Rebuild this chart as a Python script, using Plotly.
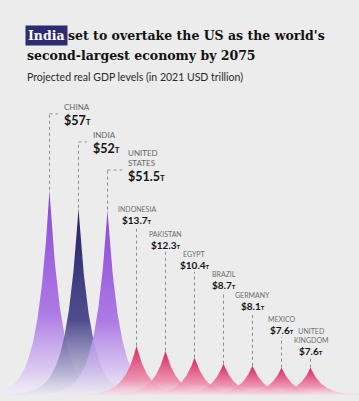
import numpy as np
import plotly.graph_objects as go

# ---- data ----
countries = ["CHINA", "INDIA", "UNITED<br>STATES", "INDONESIA", "PAKISTAN", "EGYPT",
             "BRAZIL", "GERMANY", "MEXICO", "UNITED<br>KINGDOM"]
gdp_2075 = [57, 52, 51.5, 13.7, 12.3, 10.4, 8.7, 8.1, 7.6, 7.6]
value_labels = ["$57", "$52", "$51.5", "$13.7", "$12.3", "$10.4", "$8.7", "$8.1", "$7.6", "$7.6"]

# ---- style / layout ----
W, H = 359, 401
BG = "#ececec"
PX_PER_CAT = 29.0
PX_PER_UNIT = 3.6
FIRST_CENTER_PX = 49.5
BASE_PX = 395
X0 = -FIRST_CENTER_PX / PX_PER_CAT
X1 = X0 + W / PX_PER_CAT
Y0 = -(H - BASE_PX) / PX_PER_UNIT
Y1 = Y0 + H / PX_PER_UNIT
DECAY = 0.42  # spike width in category units

label_level = [78.1, 70.3, 62.5, 46.7, 39.7, 34.2, 28.6, 22.8, 16.1, 10.3]
side_offset = [0.43, 0.43, 0.64]

purple_cs = [[0, "rgba(242,238,248,0.55)"], [0.12, "rgba(214,194,242,0.8)"],
             [0.4, "rgba(168,112,228,0.92)"], [1, "rgba(138,70,214,1)"]]
navy_cs = [[0, "rgba(228,228,238,0.55)"], [0.12, "rgba(170,170,205,0.8)"],
           [0.4, "rgba(66,62,135,0.92)"], [1, "rgba(36,34,102,1)"]]
pink_cs = [[0, "rgba(246,222,230,0.6)"], [0.3, "rgba(238,140,170,0.9)"],
           [1, "rgba(214,38,96,1)"]]
scales = [purple_cs, navy_cs, purple_cs] + [pink_cs] * 7

fig = go.Figure()
dx = np.linspace(-3, 3, 601)
for i, (v, cs) in enumerate(zip(gdp_2075, scales)):
    xs = i + dx
    ys = v * np.exp(-np.abs(dx) / DECAY)
    fig.add_trace(go.Scatter(
        x=xs, y=ys, mode="lines", line=dict(width=0), fill="tozeroy",
        fillgradient=dict(type="vertical", colorscale=cs, start=0, stop=v),
        hoverinfo="skip", showlegend=False))

dash_style = dict(color="#8c8c8c", width=1, dash="3px,3px")
for i, (v, lvl) in enumerate(zip(gdp_2075, label_level)):
    fig.add_shape(type="line", x0=i, x1=i, y0=v, y1=lvl, line=dash_style, layer="above")
    if i < 3:
        off = side_offset[i]
        fig.add_shape(type="line", x0=i, x1=i + off - 0.14, y0=lvl, y1=lvl,
                      line=dash_style, layer="above")
        fig.add_annotation(x=i + off, y=lvl, text=countries[i], showarrow=False,
                           xanchor="left", yanchor="bottom", yshift=0, align="left",
                           font=dict(family="Lato", size=8, color="#666666"))
        fig.add_annotation(x=i + off, y=lvl, showarrow=False,
                           text=f"<b>{value_labels[i]}<span style='font-size:8px'>T</span></b>",
                           xanchor="left", yanchor="top", yshift=3,
                           font=dict(family="Lato", size=12.5, color="#151515"))
    else:
        fig.add_annotation(x=i, y=lvl, showarrow=False,
                           text=f"<b>{value_labels[i]}<span style='font-size:6px'>T</span></b>",
                           xanchor="center", yanchor="middle", yshift=7,
                           font=dict(family="Lato", size=10, color="#151515"))
        fig.add_annotation(x=i, y=lvl, showarrow=False, text=countries[i],
                           xanchor="center", yanchor="bottom", yshift=12, align="center",
                           font=dict(family="Lato", size=7, color="#6e6e6e"))

# ---- titles ----
def px(x):
    return x / W

def py(y):
    return 1 - y / H

TITLE_SIZE = 12.5
fig.add_annotation(xref="paper", yref="paper", x=px(25), y=py(35), text="<b>India</b>",
                   showarrow=False, xanchor="left", yanchor="middle",
                   bgcolor="#2e2b70", borderpad=2,
                   font=dict(family="DejaVu Serif", size=TITLE_SIZE, color="white"))
fig.add_annotation(xref="paper", yref="paper", x=px(66), y=py(35),
                   text="<b>set to overtake the US as the world's</b>",
                   showarrow=False, xanchor="left", yanchor="middle",
                   font=dict(family="DejaVu Serif", size=TITLE_SIZE, color="#111111"))
fig.add_annotation(xref="paper", yref="paper", x=px(25), y=py(55),
                   text="<b>second-largest economy by 2075</b>",
                   showarrow=False, xanchor="left", yanchor="middle",
                   font=dict(family="DejaVu Serif", size=TITLE_SIZE, color="#111111"))
fig.add_annotation(xref="paper", yref="paper", x=px(25), y=py(77),
                   text="Projected real GDP levels (in 2021 USD trillion)",
                   showarrow=False, xanchor="left", yanchor="middle",
                   font=dict(family="Lato", size=10.5, color="#2a2a2a"))

fig.update_layout(
    width=W, height=H, margin=dict(l=0, r=0, t=0, b=0),
    paper_bgcolor=BG, plot_bgcolor=BG,
    xaxis=dict(range=[X0, X1], visible=False, fixedrange=True),
    yaxis=dict(range=[Y0, Y1], visible=False, fixedrange=True),
    showlegend=False,
)
fig.write_html("out.html", config={"displayModeBar": False},
               post_script="document.body.style.margin='0';"
                           "document.body.style.background='%s';"
                           "document.body.style.overflow='hidden';" % BG)
